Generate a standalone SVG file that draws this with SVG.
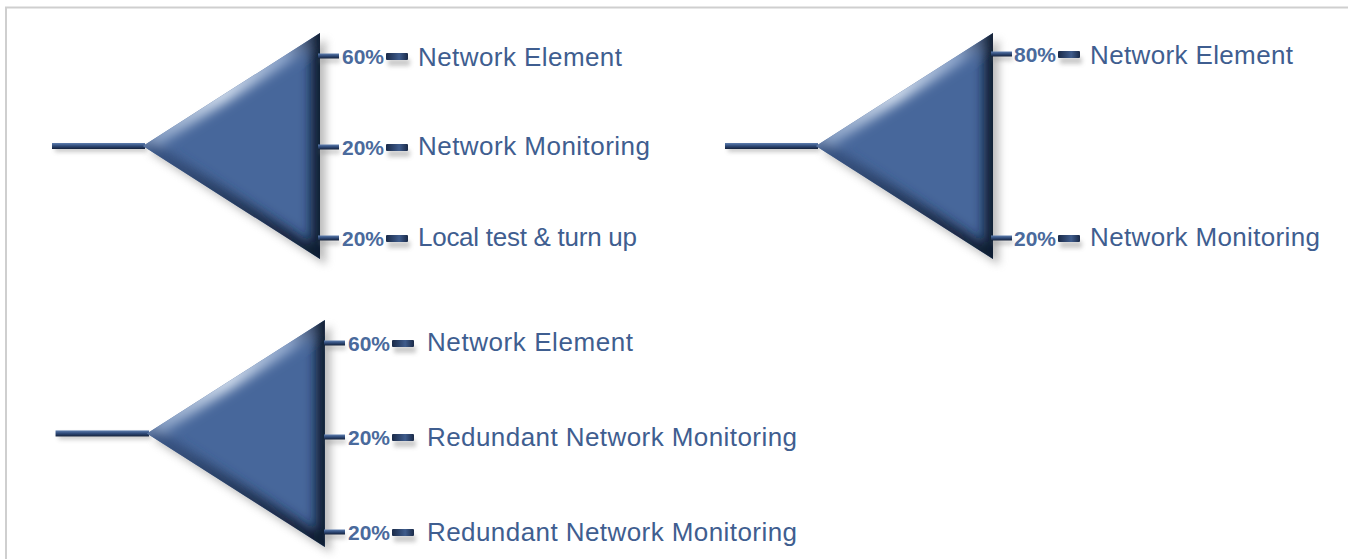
<svg xmlns="http://www.w3.org/2000/svg" xmlns:xlink="http://www.w3.org/1999/xlink" width="1348" height="559" viewBox="0 0 1348 559">
<style>
.lbl{font-family:"Liberation Sans",Arial,sans-serif;font-size:26px;fill:#3f5e90}
.pct{font-family:"Liberation Sans",Arial,sans-serif;font-size:21px;font-weight:bold;fill:#4a6a9c}
</style>
<defs>
<filter id="blur" x="-30%" y="-30%" width="160%" height="160%"><feGaussianBlur stdDeviation="6"/></filter>
<filter id="sh" x="-30%" y="-30%" width="160%" height="160%"><feGaussianBlur stdDeviation="4"/></filter>
<filter id="shs" x="-50%" y="-200%" width="200%" height="500%"><feGaussianBlur stdDeviation="2"/></filter>
<clipPath id="triClip" clipPathUnits="userSpaceOnUse"><polygon points="0,113 177,0 177,226"/></clipPath>
<linearGradient id="topEdge" gradientUnits="userSpaceOnUse" x1="0" y1="113" x2="177" y2="0">
<stop offset="0" stop-color="#7e98c0"/><stop offset="0.45" stop-color="#d8e3f1"/><stop offset="0.8" stop-color="#8ea6cc"/><stop offset="1" stop-color="#1c2c4a"/>
</linearGradient>
<linearGradient id="botEdge" gradientUnits="userSpaceOnUse" x1="0" y1="113" x2="177" y2="226">
<stop offset="0" stop-color="#3a5686"/><stop offset="1" stop-color="#0a1426"/>
</linearGradient>
<linearGradient id="barV" x1="0" y1="0" x2="0" y2="1">
<stop offset="0" stop-color="#5f7fb0"/><stop offset="0.5" stop-color="#2f4a78"/><stop offset="1" stop-color="#14213a"/>
</linearGradient>
<linearGradient id="dash" x1="0" y1="0" x2="1" y2="0">
<stop offset="0" stop-color="#1a2a48"/><stop offset="0.6" stop-color="#3f5c8c"/><stop offset="1" stop-color="#1a2a48"/>
</linearGradient>
<g id="tri">
<rect x="-88" y="113" width="92" height="6" fill="#8a8a8a" opacity="0.45" filter="url(#shs)"/>
<polygon points="6,119 183,6 183,232" fill="#7a7a7a" opacity="0.5" filter="url(#sh)"/>
<rect x="-91" y="110" width="93" height="6" fill="url(#barV)"/>
<polygon points="0,113 177,0 177,226" fill="#47679b"/>
<g clip-path="url(#triClip)">
<g filter="url(#blur)">
<line x1="-4" y1="115" x2="177" y2="0" stroke="url(#topEdge)" stroke-width="16"/>
<line x1="0" y1="113" x2="177" y2="226" stroke="url(#botEdge)" stroke-width="16"/>
<line x1="179" y1="-10" x2="179" y2="236" stroke="#0e1a30" stroke-width="22"/>
</g>
</g>
</g>
<g id="tick">
<rect x="0" y="2" width="20" height="5" fill="#8a8a8a" opacity="0.4" filter="url(#shs)"/>
<rect x="-2" y="-2.5" width="21" height="5" fill="url(#barV)"/>
</g>
<g id="dsh">
<rect x="2" y="3" width="22" height="7" fill="#8a8a8a" opacity="0.45" filter="url(#shs)"/>
<rect x="0" y="-3" width="22" height="7" rx="1" fill="url(#dash)"/>
</g>
</defs>
<rect x="6" y="7.5" width="1345" height="560" fill="#ffffff" stroke="#cfcfcf" stroke-width="2"/>

<g id="splitter-1">
<use xlink:href="#tri" transform="translate(143,33)"/>
<use xlink:href="#tick" x="320" y="56"/>
<use xlink:href="#tick" x="320" y="147"/>
<use xlink:href="#tick" x="320" y="238"/>
<text class="pct" x="342" y="63.5">60%</text>
<text class="pct" x="342" y="154.5">20%</text>
<text class="pct" x="342" y="245.5">20%</text>
<use xlink:href="#dsh" x="386" y="56"/>
<use xlink:href="#dsh" x="386" y="147"/>
<use xlink:href="#dsh" x="386" y="238"/>
<text class="lbl" x="418" y="66" textLength="204" lengthAdjust="spacing">Network Element</text>
<text class="lbl" x="418" y="155" textLength="232" lengthAdjust="spacing">Network Monitoring</text>
<text class="lbl" x="418" y="246" textLength="219" lengthAdjust="spacing">Local test &amp; turn up</text>
</g>

<g id="splitter-2">
<use xlink:href="#tri" transform="translate(816,33)"/>
<use xlink:href="#tick" x="993" y="54"/>
<use xlink:href="#tick" x="993" y="238"/>
<text class="pct" x="1014" y="61.5">80%</text>
<text class="pct" x="1014" y="245.5">20%</text>
<use xlink:href="#dsh" x="1058" y="54"/>
<use xlink:href="#dsh" x="1058" y="238"/>
<text class="lbl" x="1090" y="64" textLength="203" lengthAdjust="spacing">Network Element</text>
<text class="lbl" x="1090" y="246" textLength="230" lengthAdjust="spacing">Network Monitoring</text>
</g>

<g id="splitter-3">
<use xlink:href="#tri" transform="translate(147,320) scale(1.005,1.004)"/>
<use xlink:href="#tick" x="326" y="343"/>
<use xlink:href="#tick" x="326" y="437"/>
<use xlink:href="#tick" x="326" y="532"/>
<text class="pct" x="348" y="350.5">60%</text>
<text class="pct" x="348" y="444.5">20%</text>
<text class="pct" x="348" y="539.5">20%</text>
<use xlink:href="#dsh" x="392" y="343"/>
<use xlink:href="#dsh" x="392" y="437"/>
<use xlink:href="#dsh" x="392" y="532"/>
<text class="lbl" x="427" y="351" textLength="206" lengthAdjust="spacing">Network Element</text>
<text class="lbl" x="427" y="446" textLength="370" lengthAdjust="spacing">Redundant Network Monitoring</text>
<text class="lbl" x="427" y="541" textLength="370" lengthAdjust="spacing">Redundant Network Monitoring</text>
</g>
</svg>
